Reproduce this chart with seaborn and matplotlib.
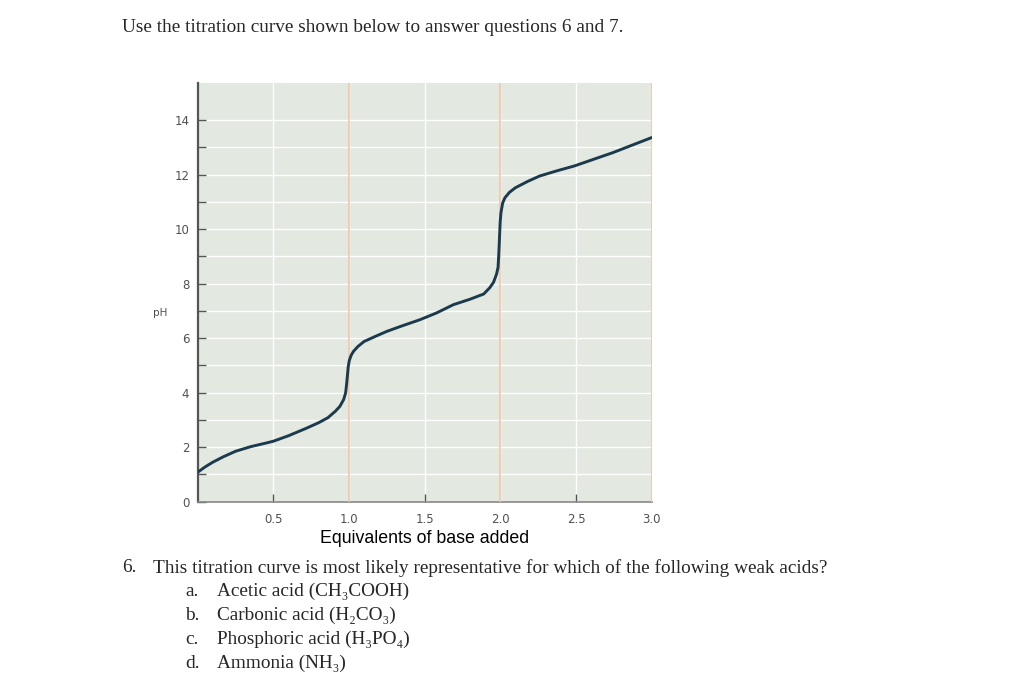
import matplotlib
matplotlib.use("Agg")
import matplotlib.pyplot as plt
import seaborn as sns
import pandas as pd

# data
equiv = [0.00, 0.05, 0.10, 0.17, 0.25, 0.35, 0.45, 0.50, 0.60, 0.72, 0.80, 0.86,
         0.91, 0.94, 0.965, 0.978, 0.985, 0.990, 0.995, 1.002, 1.015, 1.03, 1.06,
         1.10, 1.18, 1.25, 1.35, 1.47, 1.58, 1.69, 1.80, 1.89, 1.93, 1.955, 1.975,
         1.985, 1.990, 1.995, 1.999, 2.004, 2.015, 2.03, 2.06, 2.10, 2.18, 2.26,
         2.38, 2.49, 2.62, 2.745, 2.87, 3.00]
ph = [1.08, 1.28, 1.45, 1.65, 1.85, 2.02, 2.15, 2.22, 2.42, 2.70, 2.90, 3.08,
      3.32, 3.50, 3.75, 4.00, 4.35, 4.65, 4.95, 5.18, 5.38, 5.52, 5.70,
      5.88, 6.08, 6.25, 6.45, 6.68, 6.93, 7.23, 7.43, 7.62, 7.85, 8.05, 8.35,
      8.60, 9.10, 9.75, 10.25, 10.60, 10.95, 11.15, 11.35, 11.52, 11.75, 11.95,
      12.15, 12.32, 12.57, 12.81, 13.08, 13.36]
equiv_points = [1.0, 2.0, 3.0]
x_ticks = [0.5, 1.0, 1.5, 2.0, 2.5, 3.0]
x_labels = ["0.5", "1.0", "1.5", "2.0", "2.5", "3.0"]
y_ticks = [0, 2, 4, 6, 8, 10, 12, 14]
y_minor = [1, 3, 5, 7, 9, 11, 13]

options = [("a.", "Acetic acid (CH₃COOH)"),
           ("b.", "Carbonic acid (H₂CO₃)"),
           ("c.", "Phosphoric acid (H₃PO₄)"),
           ("d.", "Ammonia (NH₃)")]

df = pd.DataFrame({"equiv": equiv, "pH": ph})

sns.set_style("darkgrid", {"axes.facecolor": "#e3e8e1", "grid.color": "white"})
plt.rcParams["font.family"] = ["DejaVu Sans"]

fig = plt.figure(figsize=(10.24, 6.83), dpi=100)
ax = fig.add_axes([0.193, 0.2654, 0.4434, 0.6126])

# equivalence point markers
for xv in equiv_points:
    ax.axvline(xv, color="#eec2a0", lw=1.1, zorder=3)

sns.lineplot(data=df, x="equiv", y="pH", ax=ax, color="#1b3a4e", lw=2.1,
             zorder=4, sort=False)

ax.set_xlim(0, 3.0)
ax.set_ylim(0, 15.35)
ax.set_xticks(x_ticks)
ax.set_xticklabels(x_labels)
ax.set_yticks(y_ticks)
ax.set_yticks(y_minor, minor=True)
ax.grid(True, which="both", color="white", lw=1.0)
ax.tick_params(which="both", direction="in", length=6, width=1, color="#555555",
               labelsize=8.5, labelcolor="#505050", bottom=True, left=True)
ax.tick_params(axis="x", pad=8)
ax.tick_params(axis="y", pad=6)
# no tick marks where the orange lines sit
for t, xv in zip(ax.xaxis.get_major_ticks(), x_ticks):
    if xv in equiv_points:
        t.tick1line.set_visible(False)

ax.spines["left"].set_visible(True)
ax.spines["left"].set_color("#555555")
ax.spines["left"].set_linewidth(1.6)
ax.spines["bottom"].set_visible(True)
ax.spines["bottom"].set_color("#888888")
ax.spines["bottom"].set_linewidth(1.2)
ax.spines["right"].set_visible(False)
ax.spines["top"].set_visible(False)

ax.set_xlabel("Equivalents of base added", fontsize=12.8, family="Liberation Sans",
              color="black", labelpad=3)
ax.set_ylabel("")
fig.text(160 / 1024, 1 - 313 / 683, "pH", fontsize=7.5, color="#505050",
         ha="center", va="center")

# surrounding question text
serif = ["Liberation Serif", "DejaVu Serif"]
fs = 13.85
fig.text(122 / 1024, 1 - 27 / 683,
         "Use the titration curve shown below to answer questions 6 and 7.",
         family=serif, fontsize=fs, va="center", ha="left")
fig.text(122 / 1024, 1 - 568 / 683, "6.", family=serif, fontsize=fs,
         va="center", ha="left")
fig.text(153 / 1024, 1 - 568 / 683,
         "This titration curve is most likely representative for which of the following weak acids?",
         family=serif, fontsize=fs, va="center", ha="left")
for i, (letter, text) in enumerate(options):
    yy = 1 - (591 + 24 * i) / 683
    fig.text(185 / 1024, yy, letter, family=serif, fontsize=fs, va="center", ha="left")
    fig.text(217 / 1024, yy, text, family=serif, fontsize=fs, va="center", ha="left")

fig.savefig("out.png", dpi=100)
